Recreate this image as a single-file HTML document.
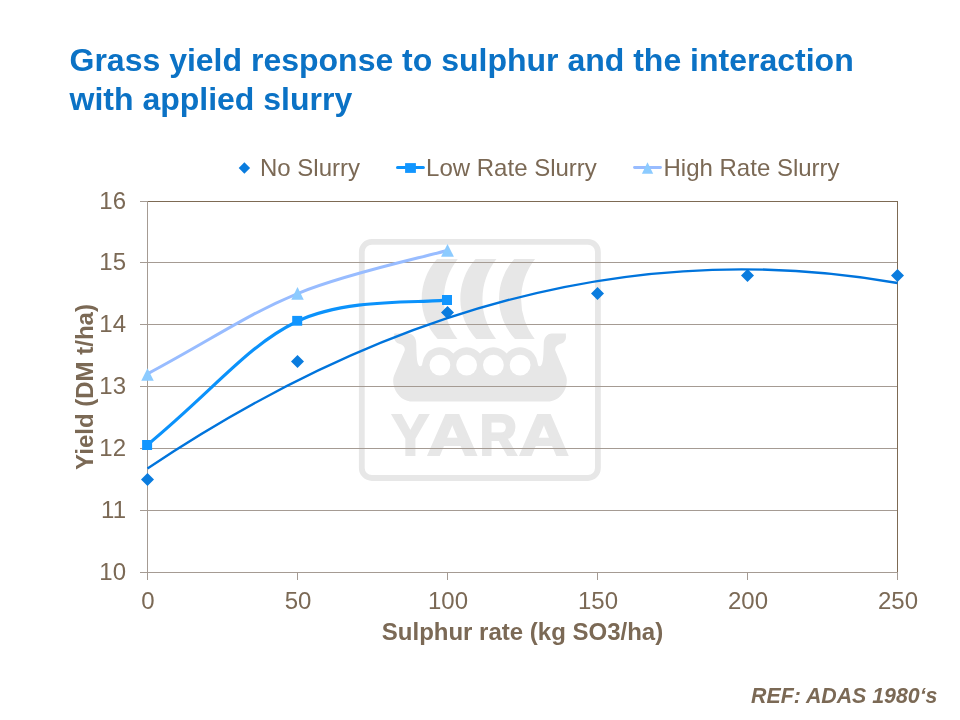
<!DOCTYPE html>
<html lang="en"><head><meta charset="utf-8"><title>Grass yield response to sulphur</title>
<style>
html,body{margin:0;padding:0;background:#fff;}
body{width:960px;height:720px;overflow:hidden;position:relative;font-family:"Liberation Sans",Arial,sans-serif;}
svg{position:absolute;left:0;top:0;display:block;will-change:transform;}
text{font-family:"Liberation Sans",Arial,sans-serif;}
</style></head><body>
<svg width="960" height="720" viewBox="0 0 960 720">
<rect width="960" height="720" fill="#fff"/>
<!-- watermark logo -->
<g id="logo" fill="#e7e7e7">
<rect x="361.8" y="241.8" width="236.1" height="236.2" rx="10" ry="10" fill="none" stroke="#e7e7e7" stroke-width="5.8"/>
<path d="M437.0,259 A59,59 0 0 0 437.7,339 L457.4,339 A65,65 0 0 1 457.8,259 Z"/><path d="M475.6,259 A59,59 0 0 0 476.3,339 L496.0,339 A65,65 0 0 1 496.4,259 Z"/><path d="M514.3,259 A59,59 0 0 0 515.0,339 L534.7,339 A65,65 0 0 1 535.1,259 Z"/>
<path d="M480,353.4 A17.7,17.7 0 0 1 506.7,353.4 A17.7,17.7 0 0 1 537.7,363.4 C537.7,365 538.3,366.2 539.8,366.2 C542.5,366.2 543.2,360 543.5,352 L543.8,343 C543.8,338 547,333.5 552,333.5 L565.8,333.5 L566,337 C566,340 564,343 560,344 C557,345 554.6,347 555.3,350.5 L565.5,374.5 C566.4,376.6 566.8,378.5 566.8,380.5 C566.8,392 558,401.5 548,401.5 L480,401.5 L412,401.5 C402,401.5 393.2,392 393.2,380.5 C393.2,378.5 393.6,376.6 394.5,374.5 L404.7,350.5 C405.4,347 403,345 400,344 C396,343 394,340 394,337 L394.2,333.5 L408,333.5 C413,333.5 416.2,338 416.2,343 L416.5,352 C416.8,360 417.5,366.2 420.2,366.2 C421.7,366.2 422.3,365 422.3,363.4 A17.7,17.7 0 0 1 453.3,353.4 A17.7,17.7 0 0 1 480,353.4Z"/><circle cx="439.9" cy="365.1" r="10.4" fill="#fff"/><circle cx="466.6" cy="365.1" r="10.4" fill="#fff"/><circle cx="493.4" cy="365.1" r="10.4" fill="#fff"/><circle cx="520.1" cy="365.1" r="10.4" fill="#fff"/>
<text y="455.2" font-size="56.6" font-weight="bold" fill="#e7e7e7" stroke="#e7e7e7" stroke-width="2"><tspan x="391.8" textLength="37.2" lengthAdjust="spacingAndGlyphs">Y</tspan><tspan x="427.1" textLength="50.6" lengthAdjust="spacingAndGlyphs">A</tspan><tspan x="479.4" textLength="37.8" lengthAdjust="spacingAndGlyphs">R</tspan><tspan x="519.1" textLength="49.8" lengthAdjust="spacingAndGlyphs">A</tspan></text>
</g>
<!-- title -->
<g font-size="32" font-weight="bold" fill="#0b72c5">
<text x="69.5" y="70.6">Grass yield response to sulphur and the interaction</text>
<text x="69.5" y="110.1">with applied slurry</text>
</g>
<!-- gridlines and axes -->
<g stroke="#a59b93" stroke-width="1" fill="none" shape-rendering="crispEdges"><line x1="147.5" x2="897.5" y1="510.5" y2="510.5"/><line x1="147.5" x2="897.5" y1="448.5" y2="448.5"/><line x1="147.5" x2="897.5" y1="386.5" y2="386.5"/><line x1="147.5" x2="897.5" y1="324.5" y2="324.5"/><line x1="147.5" x2="897.5" y1="262.5" y2="262.5"/><line x1="140" x2="147.5" y1="572.5" y2="572.5"/><line x1="140" x2="147.5" y1="510.5" y2="510.5"/><line x1="140" x2="147.5" y1="448.5" y2="448.5"/><line x1="140" x2="147.5" y1="386.5" y2="386.5"/><line x1="140" x2="147.5" y1="324.5" y2="324.5"/><line x1="140" x2="147.5" y1="262.5" y2="262.5"/><line x1="140" x2="147.5" y1="201.5" y2="201.5"/><line x1="147.0" x2="147.0" y1="572.5" y2="580"/><line x1="297.0" x2="297.0" y1="572.5" y2="580"/><line x1="447.0" x2="447.0" y1="572.5" y2="580"/><line x1="597.0" x2="597.0" y1="572.5" y2="580"/><line x1="747.0" x2="747.0" y1="572.5" y2="580"/><line x1="897.0" x2="897.0" y1="572.5" y2="580"/>
<line x1="147.5" x2="147.5" y1="201.5" y2="572.5"/><line x1="147.5" x2="897.5" y1="572.5" y2="572.5"/></g>
<g stroke="#7d6a54" stroke-width="1" fill="none" shape-rendering="crispEdges"><line x1="148" x2="897.5" y1="201.5" y2="201.5"/><line x1="897.5" x2="897.5" y1="201" y2="572"/></g>
<!-- axis labels -->
<g font-size="24" fill="#7b6955"><text x="126" y="580.1" text-anchor="end">10</text><text x="126" y="518.1" text-anchor="end">11</text><text x="126" y="456.1" text-anchor="end">12</text><text x="126" y="394.1" text-anchor="end">13</text><text x="126" y="332.1" text-anchor="end">14</text><text x="126" y="270.1" text-anchor="end">15</text><text x="126" y="209.1" text-anchor="end">16</text><text x="148.0" y="608.7" text-anchor="middle">0</text><text x="298.0" y="608.7" text-anchor="middle">50</text><text x="448.0" y="608.7" text-anchor="middle">100</text><text x="598.0" y="608.7" text-anchor="middle">150</text><text x="748.0" y="608.7" text-anchor="middle">200</text><text x="898.0" y="608.7" text-anchor="middle">250</text>
<text x="522.5" y="639.9" font-weight="bold" text-anchor="middle">Sulphur rate (kg SO3/ha)</text>
<text transform="translate(92.8,387) rotate(-90)" font-weight="bold" text-anchor="middle">Yield (DM t/ha)</text>
<text x="260" y="175.7">No Slurry</text>
<text x="426.1" y="175.7">Low Rate Slurry</text>
<text x="663.5" y="175.7">High Rate Slurry</text>
</g>
<text x="937.5" y="702.8" font-size="21.33" font-weight="bold" font-style="italic" text-anchor="end" fill="#7b6955">REF: ADAS 1980&#8216;s</text>
<!-- series -->
<path d="M147,374.1 C214.5,337.9 247,314.4 297,293.8 C347,273.2 422,257.7 447,250.5" fill="none" stroke="#98bcff" stroke-width="3" stroke-linecap="round"/>
<g fill="#8ccbff"><path d="M147.5,368.3 L153.75,380.7 L141.25,380.7Z"/><path d="M297.5,287 L303.75,299.7 L291.25,299.7Z"/><path d="M447.5,244 L453.9,256.7 L441.1,256.7Z"/></g>
<path d="M147,445.2 C214.5,389.5 247,345.7 297,321.5 C347,297.3 422,303.5 447,299.9" fill="none" stroke="#0b92fb" stroke-width="3.1" stroke-linecap="round"/>
<g fill="#1296ff"><rect x="142.1" y="440" width="10" height="10"/><rect x="292.2" y="315.9" width="10" height="9.8"/><rect x="442" y="295" width="10" height="10"/></g>
<g fill="#0a7cde"><path d="M147.5,473.0 L154.0,479.5 L147.5,486.0 L141.0,479.5Z"/><path d="M297.5,355.0 L304.0,361.5 L297.5,368.0 L291.0,361.5Z"/><path d="M447.5,306.0 L454.0,312.5 L447.5,319.0 L441.0,312.5Z"/><path d="M597.5,287.0 L604.0,293.5 L597.5,300.0 L591.0,293.5Z"/><path d="M747.5,269.0 L754.0,275.5 L747.5,282.0 L741.0,275.5Z"/><path d="M897.5,269.0 L904.0,275.5 L897.5,282.0 L891.0,275.5Z"/></g>
<path d="M147.5,468.5 Q522.5,217.0 897.5,283.0" fill="none" stroke="#0074dc" stroke-width="2.3"/>
<!-- legend markers -->
<g fill="#0a7cde"><path d="M244.4,162.3 L250.1,168.0 L244.4,173.7 L238.7,168.0Z"/></g>
<line x1="397.5" x2="423.4" y1="167.5" y2="167.5" stroke="#0b92fb" stroke-width="3" stroke-linecap="round"/>
<g fill="#1296ff"><rect x="405.1" y="163.1" width="10.8" height="9.8"/></g>
<line x1="634.5" x2="660.5" y1="167.5" y2="167.5" stroke="#98bcff" stroke-width="2.9" stroke-linecap="round"/>
<g fill="#8ccbff"><path d="M647.5,162.2 L653.2,173.8 L641.9,173.8Z"/></g>
</svg>
</body></html>
